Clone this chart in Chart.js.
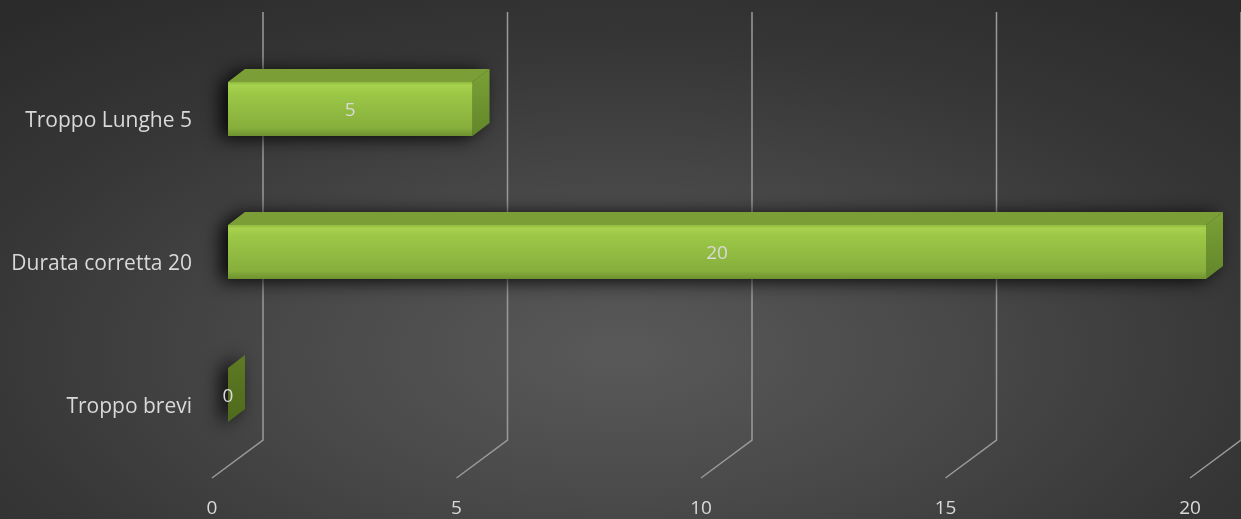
<!DOCTYPE html>
<html>
<head>
<meta charset="utf-8">
<script src="https://cdn.jsdelivr.net/npm/chart.js@4"></script>
<style>
  html, body { margin: 0; padding: 0; }
  body {
    width: 1241px; height: 519px; overflow: hidden;
    background: radial-gradient(ellipse 75% 85% at 50% 68%, #595959 0%, #494949 35%, #363636 70%, #2b2b2b 100%);
  }
  #wrap { width: 1241px; height: 519px; }
</style>
</head>
<body>
<div id="wrap"><canvas id="durata" width="1241" height="519"></canvas></div>
<script>
const categories = ['Troppo Lunghe 5', 'Durata corretta 20', 'Troppo brevi'];
const counts = [5, 20, 0];
const xTicks = [0, 5, 10, 15, 20];

const FONT = '"Open Sans", Lato, sans-serif';
const TEXT = '#d9d9d9';
// depth offsets of the 3d look
const DX = 17, DY = 13;

// gridlines: back wall plus floor diagonal
const gridPlugin = {
  id: 'grid3d',
  beforeDatasetsDraw(chart) {
    const { ctx, chartArea: a } = chart;
    const x = chart.scales.x;
    ctx.save();
    ctx.strokeStyle = '#9a9a9a';
    ctx.lineWidth = 1.5;
    xTicks.forEach(v => {
      const px = x.getPixelForValue(v);
      ctx.beginPath();
      ctx.moveTo(px + 35, a.top - 25.5);
      ctx.lineTo(px + 35, a.bottom - 26.5);
      ctx.lineTo(px - 16, a.bottom + 11.5);
      ctx.stroke();
    });
    ctx.restore();
  }
};

function poly(ctx, pts) {
  ctx.beginPath();
  ctx.moveTo(pts[0][0], pts[0][1]);
  for (let i = 1; i < pts.length; i++) ctx.lineTo(pts[i][0], pts[i][1]);
  ctx.closePath();
}

// bars drawn as boxes from the bar elements' geometry
const boxPlugin = {
  id: 'box3d',
  afterDatasetsDraw(chart) {
    const ctx = chart.ctx;
    const meta = chart.getDatasetMeta(0);
    meta.data.forEach((bar, i) => {
      const x0 = bar.base, x1 = bar.x;
      const y0 = bar.y - bar.height / 2, y1 = bar.y + bar.height / 2;
      const outline = [[x0, y0], [x0 + DX, y0 - DY], [x1 + DX, y0 - DY], [x1 + DX, y1 - DY], [x1, y1], [x0, y1]];

      ctx.save();
      // soft shadow behind
      ctx.shadowColor = 'rgba(0,0,0,0.9)';
      ctx.shadowBlur = 18;
      ctx.shadowOffsetX = -7;
      ctx.shadowOffsetY = 2;
      ctx.fillStyle = '#3a3a3a';
      poly(ctx, outline);
      ctx.fill();
      ctx.restore();

      ctx.save();
      // side face
      let g = ctx.createLinearGradient(0, y0 - DY, 0, y1);
      g.addColorStop(0, counts[i] === 0 ? '#5e7a24' : '#7aa236');
      g.addColorStop(1, counts[i] === 0 ? '#4e6a1c' : '#62862a');
      ctx.fillStyle = g;
      poly(ctx, [[x1, y0], [x1 + DX, y0 - DY], [x1 + DX, y1 - DY], [x1, y1]]);
      ctx.fill();

      if (x1 - x0 > 0.5) {
        // top face
        ctx.fillStyle = '#7b9f36';
        poly(ctx, [[x0, y0], [x0 + DX, y0 - DY], [x1 + DX, y0 - DY], [x1, y0]]);
        ctx.fill();
        // front face
        g = ctx.createLinearGradient(0, y0, 0, y1);
        g.addColorStop(0, '#8fba3f');
        g.addColorStop(0.06, '#a6d24f');
        g.addColorStop(0.2, '#9cc847');
        g.addColorStop(0.85, '#86af3c');
        g.addColorStop(1, '#6e912f');
        ctx.fillStyle = g;
        ctx.fillRect(x0, y0, x1 - x0, y1 - y0);
      }

      ctx.fillStyle = TEXT;
      ctx.font = '19px ' + FONT;
      ctx.textAlign = 'center';
      ctx.textBaseline = 'middle';
      ctx.fillText(String(counts[i]), (x0 + x1) / 2, bar.y + 2);
      ctx.restore();
    });
  }
};

new Chart(document.getElementById('durata'), {
  type: 'bar',
  data: {
    labels: categories,
    datasets: [{
      data: counts,
      backgroundColor: 'rgba(0,0,0,0)',
      borderWidth: 0,
      barThickness: 54
    }]
  },
  options: {
    indexAxis: 'y',
    responsive: false,
    animation: false,
    devicePixelRatio: 1,
    layout: { padding: { top: 37.5, right: 35, bottom: 0, left: 0 } },
    plugins: { legend: { display: false }, tooltip: { enabled: false } },
    scales: {
      x: {
        min: 0,
        max: 20,
        afterBuildTicks: s => { s.ticks = xTicks.map(v => ({ value: v })); },
        afterFit: s => { s.height = 52.5; s.paddingLeft = 0; s.paddingRight = 0; },
        border: { display: false },
        grid: { display: false, drawTicks: false },
        ticks: {
          color: TEXT,
          font: { family: FONT, size: 19 },
          labelOffset: -16,
          padding: 31,
          maxRotation: 0
        }
      },
      y: {
        afterFit: s => { s.width = 228; s.paddingTop = 0; s.paddingBottom = 0; },
        border: { display: false },
        grid: { display: false, drawTicks: false },
        ticks: {
          color: TEXT,
          font: { family: FONT, size: 21 },
          labelOffset: 12,
          padding: 36
        }
      }
    }
  },
  plugins: [gridPlugin, boxPlugin]
});
</script>
</body>
</html>
